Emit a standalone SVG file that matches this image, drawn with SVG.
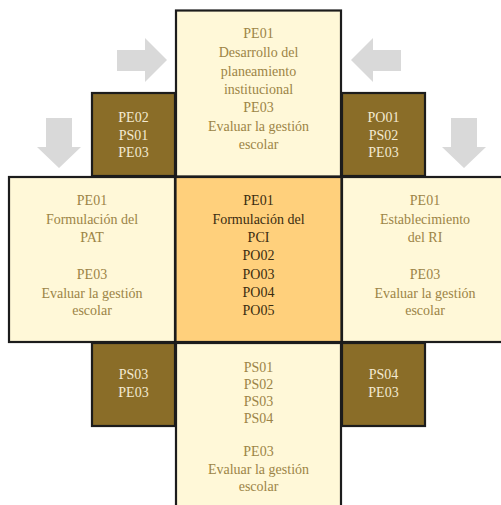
<svg xmlns="http://www.w3.org/2000/svg" width="501" height="505" viewBox="0 0 501 505">
<style>
.light{fill:#fff8d8;stroke:#1c1c1c;stroke-width:2.2}
.dark{fill:#8a6d28;stroke:#1c1c1c;stroke-width:2.2}
.core{fill:#ffd07c;stroke:#1c1c1c;stroke-width:2.2}
.arrow{fill:#d9d9d9}
text{font-size:14px;text-anchor:middle}
.tl{fill:#9c8446}
.td{fill:#f3ead2}
.tc{fill:#3a2c10}
</style>
<rect width="501" height="505" fill="#ffffff"/>
<g id="connectors">
<path class="arrow" d="M117,50 H145 V38 L167,60 L145,82 V71 H117 Z"/>
<path class="arrow" d="M401,50 H373 V38 L351,60 L373,82 V71 H401 Z"/>
<path class="arrow" d="M46,118 V147 H37 L59,168 L81,147 H72 V118 Z"/>
<path class="arrow" d="M451,118 V147 H442 L464,168 L486,147 H477 V118 Z"/>
</g>
<g font-family="Liberation Serif, DejaVu Serif, serif">
<g id="top">
<rect class="light" x="176" y="10.5" width="165" height="166"/>
<text class="tl" x="258.5" y="38">PE01</text>
<text class="tl" x="258.5" y="57">Desarrollo del</text>
<text class="tl" x="258.5" y="75.5">planeamiento</text>
<text class="tl" x="258.5" y="93.5">institucional</text>
<text class="tl" x="258.5" y="112">PE03</text>
<text class="tl" x="258.5" y="131">Evaluar la gestión</text>
<text class="tl" x="258.5" y="149">escolar</text>
</g>
<g id="top-left">
<rect class="dark" x="92" y="93" width="83" height="83"/>
<text class="td" x="133.5" y="122">PE02</text>
<text class="td" x="133.5" y="139.5">PS01</text>
<text class="td" x="133.5" y="157">PE03</text>
</g>
<g id="top-right">
<rect class="dark" x="342" y="93" width="83" height="83"/>
<text class="td" x="383.5" y="122">PO01</text>
<text class="td" x="383.5" y="139.5">PS02</text>
<text class="td" x="383.5" y="157">PE03</text>
</g>
<g id="left">
<rect class="light" x="9" y="177" width="166" height="165"/>
<text class="tl" x="92" y="205">PE01</text>
<text class="tl" x="92" y="224">Formulación del</text>
<text class="tl" x="92" y="242">PAT</text>
<text class="tl" x="92" y="278.5">PE03</text>
<text class="tl" x="92" y="297.5">Evaluar la gestión</text>
<text class="tl" x="92" y="315">escolar</text>
</g>
<g id="center">
<rect class="core" x="175.5" y="177" width="166" height="165"/>
<text class="tc" x="258.5" y="205">PE01</text>
<text class="tc" x="258.5" y="224">Formulación del</text>
<text class="tc" x="258.5" y="242">PCI</text>
<text class="tc" x="258.5" y="260">PO02</text>
<text class="tc" x="258.5" y="278.5">PO03</text>
<text class="tc" x="258.5" y="297">PO04</text>
<text class="tc" x="258.5" y="315">PO05</text>
</g>
<g id="right">
<rect class="light" x="342" y="177" width="166" height="165"/>
<text class="tl" x="425" y="205">PE01</text>
<text class="tl" x="425" y="224">Establecimiento</text>
<text class="tl" x="425" y="242">del RI</text>
<text class="tl" x="425" y="278.5">PE03</text>
<text class="tl" x="425" y="297.5">Evaluar la gestión</text>
<text class="tl" x="425" y="315">escolar</text>
</g>
<g id="bottom-left">
<rect class="dark" x="92" y="343" width="83" height="83"/>
<text class="td" x="133.5" y="379">PS03</text>
<text class="td" x="133.5" y="396.5">PE03</text>
</g>
<g id="bottom-right">
<rect class="dark" x="342" y="343" width="83" height="83"/>
<text class="td" x="383.5" y="379">PS04</text>
<text class="td" x="383.5" y="396.5">PE03</text>
</g>
<g id="bottom">
<rect class="light" x="176" y="343" width="165" height="170"/>
<text class="tl" x="258.5" y="371.5">PS01</text>
<text class="tl" x="258.5" y="389">PS02</text>
<text class="tl" x="258.5" y="406">PS03</text>
<text class="tl" x="258.5" y="423">PS04</text>
<text class="tl" x="258.5" y="455.5">PE03</text>
<text class="tl" x="258.5" y="473.5">Evaluar la gestión</text>
<text class="tl" x="258.5" y="490.5">escolar</text>
</g>
</g>
</svg>
